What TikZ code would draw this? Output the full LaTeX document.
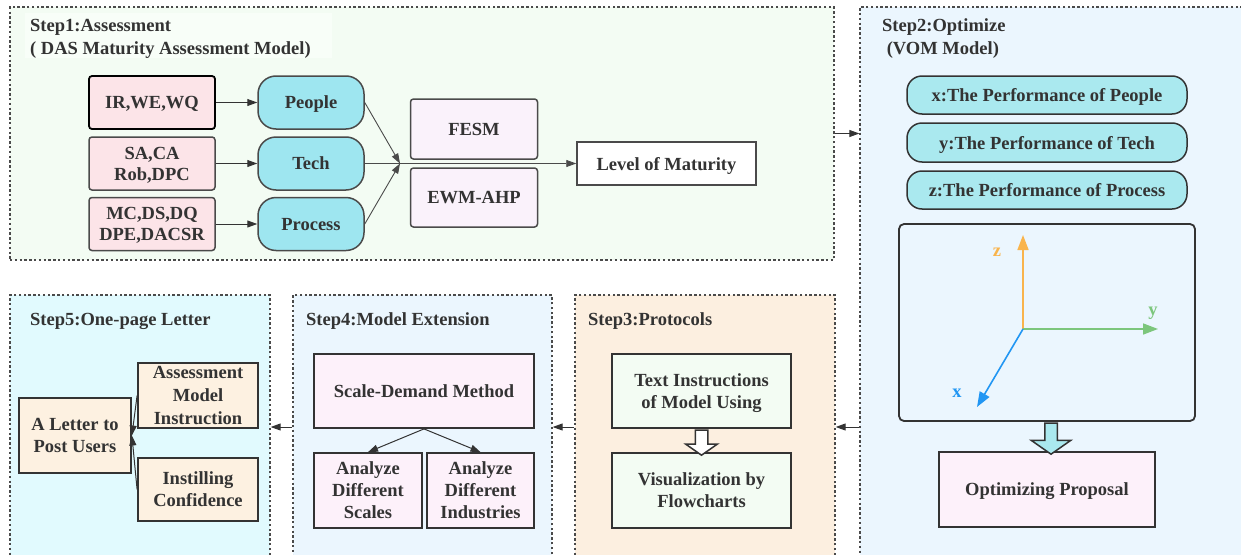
\documentclass[tikz,border=0pt]{standalone}
\usepackage{fontspec}
\setmainfont{LiberationSerif}[Extension=.ttf, UprightFont=*-Regular, BoldFont=*-Bold, ItalicFont=*-Italic, BoldItalicFont=*-BoldItalic]
\usetikzlibrary{arrows.meta,shapes.arrows,calc}

\definecolor{bgone}{HTML}{F3FCF3}
\definecolor{bgonetitle}{HTML}{F8FEF8}
\definecolor{bgtwo}{HTML}{EBF6FE}
\definecolor{bgthree}{HTML}{FCEFE0}
\definecolor{bgfour}{HTML}{EBF6FE}
\definecolor{bgfive}{HTML}{E1FAFE}
\definecolor{boxpink}{HTML}{FCE4E8}
\definecolor{boxcyan}{HTML}{9EE6F0}
\definecolor{boxaqua}{HTML}{AAE9EF}
\definecolor{boxlilac}{HTML}{FAF2FB}
\definecolor{boxrose}{HTML}{FDF1FA}
\definecolor{boxbeige}{HTML}{FDF1E1}
\definecolor{boxmint}{HTML}{F3FCF3}
\definecolor{framegray}{HTML}{4A4A4A}
\definecolor{txtgray}{HTML}{333333}
\definecolor{axisx}{HTML}{2196F3}
\definecolor{axisy}{HTML}{7CC67C}
\definecolor{axisz}{HTML}{F9B44C}

\begin{document}
\begin{tikzpicture}[x=1pt, y=-1pt,
  every node/.style={font=\bfseries\fontsize{18.5}{22}\selectfont, text=txtgray},
  stepframe/.style={draw=framegray, line width=1.3pt, dash pattern=on 2.4pt off 2.4pt},
  steptitle/.style={anchor=base west, inner sep=0pt},
  box/.style={draw=txtgray, line width=1.8pt, align=center, inner sep=0pt, text depth=-2pt},
  grbox/.style={draw=framegray, line width=1.5pt, align=center, inner sep=0pt, text depth=-2pt, rounded corners=3pt},
  link/.style={draw=txtgray, line width=1pt, -{Triangle[length=10pt,width=7pt]}},
  glink/.style={draw=framegray, line width=0.9pt, -{Triangle[length=10pt,width=7pt]}},
  axis/.style={line width=1.6pt, -{Triangle[length=15pt,width=11pt]}},
  hollow/.style={single arrow, draw=txtgray, line width=1.5pt, shape border rotate=270,
    single arrow tip angle=110, inner sep=5.5pt},
]
\clip (0,0) rectangle (1241,554);

% step frames
\node[stepframe, fill=bgone, minimum width=824pt, minimum height=253pt] (s1) at (422,133.5) {};
\node[stepframe, fill=bgtwo, minimum width=390pt, minimum height=558pt] (s2) at (1055,286) {};
\node[stepframe, fill=bgfive, minimum width=260pt, minimum height=264pt] (s5) at (140,427) {};
\node[stepframe, fill=bgfour, minimum width=259pt, minimum height=264pt] (s4) at (422.5,427) {};
\node[stepframe, fill=bgthree, minimum width=260pt, minimum height=264pt] (s3) at (705,427) {};

\draw[link] (s1.east) -- (s1.east -| s2.west);
\draw[link] (s2.west |- s3.east) -- (s3.east);
\draw[link] (s3.west) -- (s4.east);
\draw[link] (s4.west) -- (s5.east);

% step 1
\node[fill=bgonetitle, inner sep=0pt, minimum width=307pt, minimum height=45pt] (t1bg) at (178.5,35.5) {};
\node[steptitle] (t1a) at (30,31) {Step1:Assessment};
\node[steptitle] (t1b) at (30,54) {( DAS Maturity Assessment Model)};
\node[box, draw=black, fill=boxpink, rounded corners=3pt, minimum width=126pt, minimum height=53pt] (ir) at (152,102.5) {IR,WE,WQ};
\node[grbox, fill=boxpink, minimum width=126pt, minimum height=53pt, font=\bfseries\fontsize{18.5}{21}\selectfont] (sa) at (152,163.5) {SA,CA\\Rob,DPC};
\node[grbox, fill=boxpink, minimum width=126pt, minimum height=53pt, font=\bfseries\fontsize{18.5}{21}\selectfont] (mc) at (152,224) {MC,DS,DQ\\DPE,DACSR};
\node[grbox, fill=boxcyan, rounded corners=18pt, minimum width=106pt, minimum height=53pt] (people) at (311,102.5) {People};
\node[grbox, fill=boxcyan, rounded corners=18pt, minimum width=106pt, minimum height=53pt] (tech) at (311,163.5) {Tech};
\node[grbox, fill=boxcyan, rounded corners=18pt, minimum width=106pt, minimum height=53pt] (process) at (311,224) {Process};
\node[grbox, fill=boxlilac, minimum width=127pt, minimum height=60pt] (fesm) at (474,129) {FESM};
\node[grbox, fill=boxlilac, minimum width=127pt, minimum height=59pt] (ewm) at (474,197.5) {EWM-AHP};
\node[grbox, fill=white, rounded corners=0pt, minimum width=179pt, minimum height=43pt] (level) at (666.5,163.5) {Level of Maturity};
\coordinate (merge) at (400,163.5);

\draw[link] (ir) -- (people);
\draw[link] (sa) -- (tech);
\draw[link] (mc) -- (process);
\draw[glink] (people.east) -- (merge);
\draw[glink] (process.east) -- (merge);
\draw[glink] (tech) -- (level);

% step 2
\node[steptitle] (t2a) at (882,31) {Step2:Optimize};
\node[steptitle] (t2b) at (882,54) {\ (VOM Model)};
\node[box, fill=boxaqua, line width=1.5pt, rounded corners=15pt, minimum width=280pt, minimum height=38pt] (perfx) at (1047,95) {x:The Performance of People};
\node[box, fill=boxaqua, line width=1.5pt, rounded corners=15pt, minimum width=280pt, minimum height=39pt] (perfy) at (1047,142.5) {y:The Performance of Tech};
\node[box, fill=boxaqua, line width=1.5pt, rounded corners=15pt, minimum width=280pt, minimum height=38pt] (perfz) at (1047,190) {z:The Performance of Process};
\node[box, rounded corners=5pt, minimum width=296pt, minimum height=197pt] (axes) at (1047,322.5) {};
\coordinate (o) at (1023,329);
\coordinate (ztip) at (1023,235);
\coordinate (ytip) at (1158,329);
\coordinate (xtip) at (977,407);
\draw[axis, axisz] (o) -- (ztip);
\draw[axis, axisy] (o) -- (ytip);
\draw[axis, axisx] (o) -- (xtip);
\node[text=axisz] (zlab) at (997,252) {z};
\node[text=axisy] (ylab) at (1153,313) {y};
\node[text=axisx] (xlab) at (957,393) {x};
\node[box, fill=boxrose, minimum width=216pt, minimum height=75pt] (proposal) at (1047,489.5) {Optimizing Proposal};
\node[hollow, fill=boxaqua, minimum height=31pt, minimum width=38pt, single arrow head extend=13.5pt] (down2) at ($(axes.south)!0.5!(proposal.north)+(4,0)$) {};

% step 3
\node[steptitle] (t3) at (588,325) {Step3:Protocols};
\node[box, fill=boxmint, minimum width=179pt, minimum height=74pt] (instr) at (701.5,391) {Text Instructions\\of Model Using};
\node[box, fill=boxmint, minimum width=179pt, minimum height=75pt] (viz) at (701.5,490.5) {Visualization by\\Flowcharts};
\node[hollow, fill=white, minimum height=25pt, minimum width=30pt, single arrow head extend=9.5pt] (down3) at ($(instr.south)!0.5!(viz.north)$) {};

% step 4
\node[steptitle] (t4) at (306,325) {Step4:Model Extension};
\node[box, fill=boxrose, minimum width=220pt, minimum height=74pt] (sdm) at (424,391) {Scale-Demand Method};
\node[box, fill=boxrose, minimum width=108pt, minimum height=75pt] (scales) at (368,490.5) {Analyze\\Different\\Scales};
\node[box, fill=boxrose, minimum width=107pt, minimum height=75pt] (indus) at (480.5,490.5) {Analyze\\Different\\Industries};
\draw[link] (sdm.south) -- (scales.north);
\draw[link] (sdm.south) -- (indus.north);

% step 5
\node[steptitle] (t5) at (30,325) {Step5:One-page Letter};
\node[box, fill=boxbeige, minimum width=112pt, minimum height=75pt] (letter) at (75,435.5) {A Letter to\\Post Users};
\node[box, fill=boxbeige, minimum width=120pt, minimum height=65pt, font=\bfseries\fontsize{18.5}{23}\selectfont] (assess) at (198,395.5) {Assessment\\Model\\Instruction};
\node[box, fill=boxbeige, minimum width=120pt, minimum height=63pt] (instill) at (198,489.5) {Instilling\\Confidence};
\draw[link] (assess.west) -- (letter.east);
\draw[link] (instill.west) -- (letter.east);
\end{tikzpicture}
\end{document}
